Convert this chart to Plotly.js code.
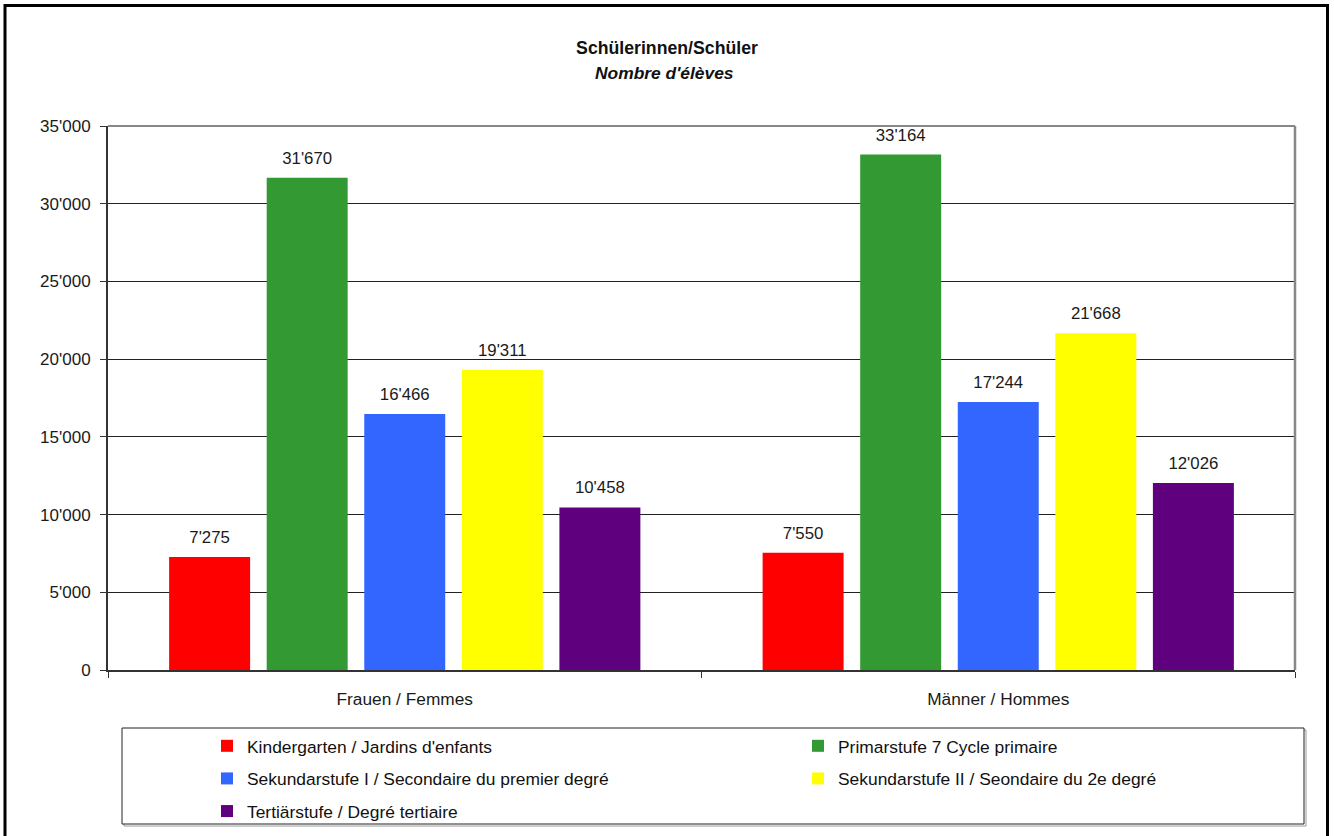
<!DOCTYPE html>
<html><head><meta charset="utf-8">
<script src="https://cdn.plot.ly/plotly-3.0.1.min.js"></script>
<style>html,body{margin:0;padding:0;background:#fff}</style>
</head><body><div id="chart" style="width:1334px;height:836px"></div>
<script>
// ---- data ----
const categories = ["Frauen / Femmes", "Männer / Hommes"];
const seriesNames = [
  "Kindergarten / Jardins d'enfants",
  "Primarstufe 7 Cycle primaire",
  "Sekundarstufe I / Secondaire du premier degré",
  "Sekundarstufe II / Seondaire du 2e degré",
  "Tertiärstufe / Degré tertiaire"
];
const kindergarten = [7275, 7550];
const primarstufe = [31670, 33164];
const sekundarstufe1 = [16466, 17244];
const sekundarstufe2 = [19311, 21668];
const tertiaerstufe = [10458, 12026];
const titleLine1 = "Schülerinnen/Schüler";
const titleLine2 = "Nombre d'élèves";

// ---- styling ----
const seriesValues = [kindergarten, primarstufe, sekundarstufe1, sekundarstufe2, tertiaerstufe];
const seriesColors = ["#FF0000", "#339933", "#3366FF", "#FFFF00", "#5F007F"];
const legendIds = ["legend", "legend2", "legend", "legend2", "legend"];
const FONT = "Liberation Sans, Arial, sans-serif";
const W = 1334, H = 836, PL = 108, PR = 1295, PT = 126, PB = 670;
const px2x = px => (px - PL) / (PR - PL);
const px2y = py => (PB - py) / (PB - PT);

const traces = [];
seriesNames.forEach((name, i) => {
  traces.push({
    type: 'bar', name: name, x: categories, y: seriesValues[i],
    marker: {color: seriesColors[i], line: {width: 0}},
    legend: legendIds[i], legendgroup: 'g' + i,
    hoverinfo: 'skip'
  });
});
seriesNames.forEach((name, i) => {
  traces.push({
    type: 'scatter', mode: 'markers+text', x: categories, y: seriesValues[i],
    texttemplate: '%{y:,}',
    textposition: 'top center',
    textfont: {family: FONT, size: 16.8, color: '#1a1a1a'},
    marker: {size: 14, opacity: 0, color: seriesColors[i]},
    showlegend: false, hoverinfo: 'skip', cliponaxis: false
  });
});

const layout = {
  width: W, height: H,
  margin: {l: PL, r: W - PR, t: PT, b: H - PB, autoexpand: false},
  paper_bgcolor: '#fff', plot_bgcolor: '#fff',
  separators: ".'",
  barmode: 'group', bargap: 0.178, bargroupgap: 0.17,
  scattermode: 'group', scattergap: 0.178,
  font: {family: FONT, size: 17, color: '#1a1a1a'},
  title: {
    text: '<b>' + titleLine1 + '</b>',
    font: {family: FONT, size: 17.7, color: '#111'},
    xref: 'container', x: 0.5, xanchor: 'center',
    yref: 'container', y: 1 - 48 / H, yanchor: 'middle'
  },
  annotations: [{
    text: '<b><i>' + titleLine2 + '</i></b>',
    xref: 'paper', yref: 'paper', x: px2x(664), y: px2y(73),
    xanchor: 'center', yanchor: 'middle', showarrow: false,
    font: {family: FONT, size: 17.4, color: '#111'}
  }],
  xaxis: {
    type: 'category', showline: true, linecolor: '#333', linewidth: 2,
    ticks: 'outside', tickson: 'boundaries', ticklen: 6, tickcolor: '#333', tickwidth: 1,
    showgrid: false, tickfont: {family: FONT, size: 17.3, color: '#1a1a1a'},
    ticklabelstandoff: 12
  },
  yaxis: {
    range: [0, 35000], dtick: 5000, tickformat: ',', showline: true,
    linecolor: '#333', linewidth: 2, ticks: 'outside', ticklen: 6, tickcolor: '#333',
    tickwidth: 1, showgrid: true, gridcolor: '#222', gridwidth: 1, zeroline: false,
    tickfont: {family: FONT, size: 17, color: '#1a1a1a'}, ticklabelstandoff: 6
  },
  legend: {
    x: px2x(207), xanchor: 'left', y: px2y(728), yanchor: 'top',
    orientation: 'v', traceorder: 'grouped', tracegroupgap: 7,
    bgcolor: 'rgba(0,0,0,0)', borderwidth: 0,
    font: {family: FONT, size: 17.4, color: '#111'}
  },
  legend2: {
    x: px2x(798), xanchor: 'left', y: px2y(728), yanchor: 'top',
    orientation: 'v', traceorder: 'grouped', tracegroupgap: 7,
    bgcolor: 'rgba(0,0,0,0)', borderwidth: 0,
    font: {family: FONT, size: 17.4, color: '#111'}
  },
  shapes: [
    // plot frame top & right (gray)
    {type: 'line', xref: 'paper', yref: 'paper', x0: 0, x1: 1, y0: 1, y1: 1, line: {color: '#888', width: 2}},
    {type: 'line', xref: 'paper', yref: 'paper', x0: 1, x1: 1, y0: 0, y1: 1, line: {color: '#888', width: 2.5}},
    // legend box shadow + box
    {type: 'rect', xref: 'paper', yref: 'paper', x0: px2x(124), x1: px2x(1306), y0: px2y(826), y1: px2y(730), line: {color: '#999', width: 1}},
    {type: 'rect', xref: 'paper', yref: 'paper', x0: px2x(122), x1: px2x(1304), y0: px2y(824), y1: px2y(728), fillcolor: '#fff', line: {color: '#222', width: 1}},
    // outer border
    {type: 'rect', xref: 'paper', yref: 'paper', x0: px2x(5), x1: px2x(1327.5), y0: px2y(850), y1: px2y(5.5), line: {color: '#000', width: 3}}
  ]
};

Plotly.newPlot('chart', traces, layout, {displayModeBar: false, staticPlot: true});
</script></body></html>
